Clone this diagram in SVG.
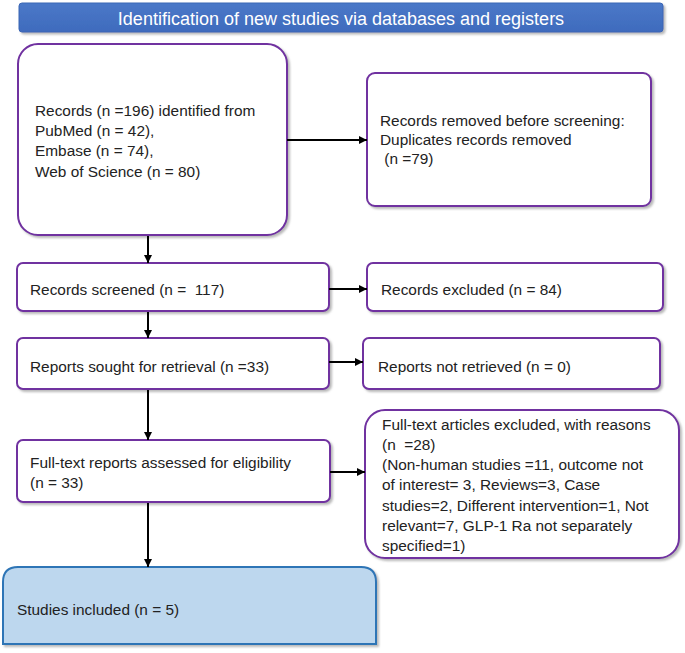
<svg xmlns="http://www.w3.org/2000/svg" width="685" height="653" viewBox="0 0 685 653">
<style>
  .box { fill: #ffffff; stroke: #7030A0; stroke-width: 2; }
  .t { font-family: "Liberation Sans", Arial, sans-serif; font-size: 15.4px; fill: #222222; white-space: pre; }
  .conn line { stroke: #000000; stroke-width: 2; }
  .hdr { font-family: "Liberation Sans", Arial, sans-serif; font-size: 18px; fill: #ffffff; }
</style>
<defs>
  <filter id="sh" x="-5%" y="-5%" width="115%" height="120%">
    <feDropShadow dx="2" dy="2" stdDeviation="1.2" flood-color="#808080" flood-opacity="0.55"/>
  </filter>
  <marker id="ah" viewBox="0 0 10 10" refX="10" refY="5" markerWidth="4" markerHeight="4" orient="auto" markerUnits="strokeWidth">
    <path d="M0,0 L10,5 L0,10 z" fill="#000000"/>
  </marker>
  <linearGradient id="hg" x1="0" y1="0" x2="0" y2="1">
    <stop offset="0" stop-color="#4a78c8"/>
    <stop offset="1" stop-color="#3f6bbd"/>
  </linearGradient>
</defs>
<rect width="685" height="653" fill="#ffffff"/>

<g id="header">
  <rect x="19" y="3" width="644" height="29" rx="3" fill="url(#hg)" stroke="#3a66b5" stroke-width="1" filter="url(#sh)"/>
  <text class="hdr" x="341" y="25" text-anchor="middle">Identification of new studies via databases and registers</text>
</g>

<g id="identified">
  <rect class="box" x="18" y="44" width="269" height="191" rx="20" filter="url(#sh)"/>
  <text class="t" x="35" y="116">Records (n =196) identified from</text>
  <text class="t" x="35" y="136">PubMed (n = 42),</text>
  <text class="t" x="35" y="156">Embase (n = 74),</text>
  <text class="t" x="35" y="177">Web of Science (n = 80)</text>
</g>

<g id="removed">
  <rect class="box" x="367" y="73" width="284" height="133" rx="8" filter="url(#sh)"/>
  <text class="t" x="380" y="126">Records removed before screening:</text>
  <text class="t" x="380" y="145">Duplicates records removed</text>
  <text class="t" x="380" y="164"> (n =79)</text>
</g>

<g id="screened">
  <rect class="box" x="17" y="263" width="312" height="48" rx="6" filter="url(#sh)"/>
  <text class="t" x="30" y="295">Records screened (n =  117)</text>
</g>

<g id="excluded">
  <rect class="box" x="367" y="263" width="296" height="48" rx="6" filter="url(#sh)"/>
  <text class="t" x="381" y="295">Records excluded (n = 84)</text>
</g>

<g id="sought">
  <rect class="box" x="17" y="338" width="312" height="51" rx="6" filter="url(#sh)"/>
  <text class="t" x="30" y="372">Reports sought for retrieval (n =33)</text>
</g>

<g id="notretrieved">
  <rect class="box" x="363" y="338" width="297" height="51" rx="6" filter="url(#sh)"/>
  <text class="t" x="378" y="372">Reports not retrieved (n = 0)</text>
</g>

<g id="assessed">
  <rect class="box" x="17" y="440" width="313" height="62" rx="6" filter="url(#sh)"/>
  <text class="t" x="30" y="468">Full-text reports assessed for eligibility</text>
  <text class="t" x="30" y="488">(n = 33)</text>
</g>

<g id="fulltextexcluded">
  <rect class="box" x="365" y="410" width="314" height="148" rx="20" filter="url(#sh)"/>
  <text class="t" x="382" y="430">Full-text articles excluded, with reasons</text>
  <text class="t" x="382" y="450">(n  =28)</text>
  <text class="t" x="382" y="470">(Non-human studies =11, outcome not</text>
  <text class="t" x="382" y="490">of interest= 3, Reviews=3, Case</text>
  <text class="t" x="382" y="511">studies=2, Different intervention=1, Not</text>
  <text class="t" x="382" y="531">relevant=7, GLP-1 Ra not separately</text>
  <text class="t" x="382" y="551">specified=1)</text>
</g>

<g id="included">
  <path d="M3,644 L3,582 Q3,567 18,567 L361,567 Q376,567 376,582 L376,644 Z" fill="#BDD7EE" stroke="#2E75B6" stroke-width="2" filter="url(#sh)"/>
  <text class="t" x="17" y="615">Studies included (n = 5)</text>
</g>

<g id="connectors" class="conn">
  <line x1="287" y1="140" x2="367" y2="140" marker-end="url(#ah)"/>
  <line x1="329" y1="289" x2="367" y2="289" marker-end="url(#ah)"/>
  <line x1="329" y1="362" x2="363" y2="362" marker-end="url(#ah)"/>
  <line x1="330" y1="472" x2="365" y2="472" marker-end="url(#ah)"/>
  <line x1="148" y1="236" x2="148" y2="263" marker-end="url(#ah)"/>
  <line x1="148" y1="312" x2="148" y2="338" marker-end="url(#ah)"/>
  <line x1="148" y1="390" x2="148" y2="440" marker-end="url(#ah)"/>
  <line x1="148" y1="503" x2="148" y2="567" marker-end="url(#ah)"/>
</g>
</svg>
